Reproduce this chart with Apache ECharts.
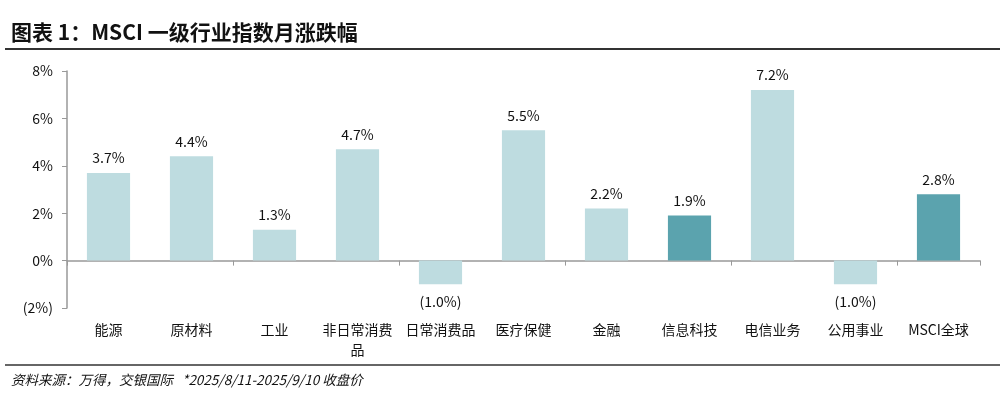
<!DOCTYPE html>
<html>
<head>
<meta charset="utf-8">
<script src="https://cdn.jsdelivr.net/npm/echarts@6/dist/echarts.min.js"></script>
<style>
  html, body { margin: 0; padding: 0; background: #fff; }
  #main { width: 1004px; height: 398px; }
</style>
</head>
<body>
<div id="main"></div>
<script>
var categories = ['能源', '原材料', '工业', '非日常消费品', '日常消费品', '医疗保健', '金融', '信息科技', '电信业务', '公用事业', 'MSCI全球'];
var values = [3.7, 4.4, 1.3, 4.7, -1.0, 5.5, 2.2, 1.9, 7.2, -1.0, 2.8];
// highlighted bars are drawn darker
var highlight = ['信息科技', 'MSCI全球'];
var yTicks = { min: -2, max: 8, step: 2 };

var LIGHT = '#BEDCE0';
var DARK = '#5BA3AE';
var FONT = '"Noto Sans CJK SC", "Noto Sans", sans-serif';

function pct(v) {
  return v < 0 ? '(' + Math.abs(v).toFixed(1) + '%)' : v.toFixed(1) + '%';
}

var barData = values.map(function (v, i) {
  return {
    value: v,
    itemStyle: { color: highlight.indexOf(categories[i]) >= 0 ? DARK : LIGHT },
    label: { position: v < 0 ? 'bottom' : 'top', distance: v < 0 ? 10 : 8 }
  };
});

var chart = echarts.init(document.getElementById('main'), null, { renderer: 'canvas' });
chart.setOption({
  animation: false,
  title: [{
    text: '图表 1：MSCI 一级行业指数月涨跌幅',
    left: 6, top: 17,
    textStyle: { fontFamily: FONT, fontSize: 21, fontWeight: 'bold', color: '#111' }
  }, {
    text: '资料来源：万得，交银国际   *2025/8/11-2025/9/10 收盘价',
    left: 6, top: 368,
    textStyle: { fontFamily: FONT, fontSize: 13.5, fontStyle: 'italic', fontWeight: 'normal', color: '#111' }
  }],
  graphic: [
    { type: 'line', shape: { x1: 5, y1: 49, x2: 1000, y2: 49 }, style: { stroke: '#333', lineWidth: 2 } },
    { type: 'line', shape: { x1: 5, y1: 365, x2: 1000, y2: 365 }, style: { stroke: '#333', lineWidth: 1.5 } }
  ],
  grid: { left: 67, right: 24, top: 71, bottom: 90 },
  xAxis: [{
    type: 'category',
    data: categories,
    axisLine: { onZero: true, lineStyle: { color: '#999', width: 1.5 } },
    axisTick: { show: true, length: 5, lineStyle: { color: '#999' } },
    axisLabel: { show: false }
  }, {
    type: 'category',
    data: categories,
    position: 'bottom',
    axisLine: { show: false, onZero: false },
    axisTick: { show: false },
    axisLabel: {
      show: true, interval: 0, margin: 12,
      fontFamily: FONT, fontSize: 14, color: '#111',
      width: 80, overflow: 'break', lineHeight: 20
    }
  }],
  yAxis: {
    type: 'value',
    min: yTicks.min, max: yTicks.max, interval: yTicks.step,
    axisLine: { show: true, lineStyle: { color: '#999', width: 1.5 } },
    axisTick: { show: true, length: 5, lineStyle: { color: '#999' } },
    splitLine: { show: false },
    axisLabel: {
      fontFamily: FONT, fontSize: 14, color: '#111', margin: 14,
      formatter: function (v) { return v < 0 ? '(' + Math.abs(v) + '%)' : v + '%'; }
    }
  },
  series: [{
    type: 'bar',
    xAxisIndex: 0,
    data: barData,
    barWidth: '52%',
    label: {
      show: true,
      fontFamily: FONT, fontSize: 14, color: '#111',
      formatter: function (p) { return pct(p.value); }
    }
  }]
});
</script>
</body>
</html>
